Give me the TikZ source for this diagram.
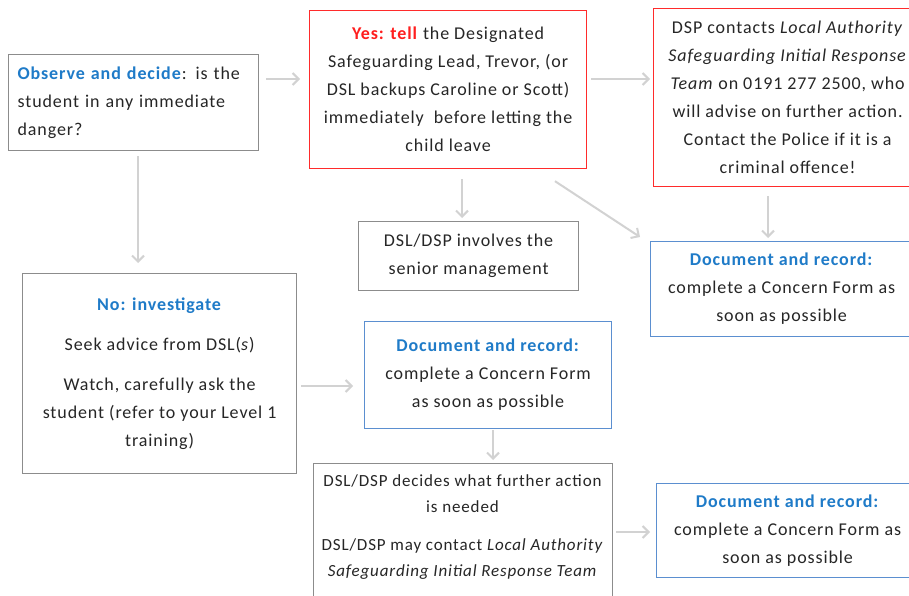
\documentclass[tikz,border=0pt]{standalone}
\usepackage{fontspec}
\setmainfont{Carlito}[LetterSpace=5]
\usetikzlibrary{arrows.meta,calc}
\definecolor{txt}{HTML}{262626}
\definecolor{gbord}{HTML}{8C8C8C}
\definecolor{rbord}{HTML}{FF2B2B}
\definecolor{bbord}{HTML}{5B8FD0}
\definecolor{btxt}{HTML}{1F7BC8}
\definecolor{rtxt}{HTML}{FF1E1E}
\definecolor{arrc}{HTML}{D2D2D2}
\newcommand{\fs}{\fontsize{18}{28}\selectfont}
\tikzset{
  base/.style={draw, line width=1.2pt, anchor=north west, inner sep=0pt, font=\fs, text=txt, align=center},
  graybox/.style={base, draw=gbord},
  redbox/.style={base, draw=rbord},
  bluebox/.style={base, draw=bbord},
  plain/.style={anchor=north, inner sep=0pt, font=\fs, text=txt, align=center},
  arr/.style={draw=arrc, line width=2pt, -{Straight Barb[length=6pt,width=12pt]}}
}
\begin{document}
\begin{tikzpicture}[x=1pt,y=-1pt]
\useasboundingbox (0,0) rectangle (909,596);
\clip (0,0) rectangle (909,596);
\fill[white] (0,0) rectangle (909,596);

\node[graybox, minimum width=250, minimum height=96, text width=232, align=left] (box1) at (8,54)
  {\textcolor{btxt}{\textbf{Observe and decide}}: is the\\student in any immediate\\danger?};

\node[redbox, minimum width=277, minimum height=158] (box2) at (309,10)
  {\textcolor{rtxt}{\textbf{Yes: tell}} the Designated\\Safeguarding Lead, Trevor, (or\\DSL backups Caroline or Scott)\\immediately\ \ before letting the\\child leave};

\node[redbox, minimum width=268, minimum height=178] (box3) at (653,8)
  {DSP contacts \textit{Local Authority}\\\textit{Safeguarding Initial Response}\\\textit{Team} on 0191 277 2500, who\\will advise on further action.\\Contact the Police if it is a\\criminal offence!};

\node[bluebox, minimum width=262, minimum height=95] (doc1) at (650,241)
  {\textcolor{btxt}{\textbf{Document and record:}}\\complete a Concern Form as\\soon as possible};

\node[graybox, minimum width=220, minimum height=69] (senior) at (358,221)
  {DSL/DSP involves the\\senior management};

\node[graybox, minimum width=274, minimum height=200] (nobox) at (22,273)
  {\textcolor{btxt}{\textbf{No: investigate}}\\[12pt]Seek advice from DSL(\textit{s})\\[12pt]Watch, carefully ask the\\student (refer to your Level 1\\training)};

\node[bluebox, minimum width=247, minimum height=107] (doc2) at (364,321)
  {\textcolor{btxt}{\textbf{Document and record:}}\\complete a Concern Form\\as soon as possible};

\node[graybox, minimum width=299, minimum height=160] (decides) at (313,463) {};
\node[plain, font=\fontsize{17}{26}\selectfont] (decidestxt) at (462.5,474)
  {DSL/DSP decides what further action\\is needed\\[12pt]DSL/DSP may contact \textit{Local Authority}\\\textit{Safeguarding Initial Response Team}};

\node[bluebox, minimum width=262, minimum height=94] (doc3) at (656,483)
  {\textcolor{btxt}{\textbf{Document and record:}}\\complete a Concern Form as\\soon as possible};

% connectors
\draw[arr, shorten <=7pt, shorten >=9pt] ([yshift=-25pt]box1.north east) -- ([yshift=-25pt]box1.north east -| box2.west);
\draw[arr, shorten <=4pt, shorten >=3pt] ([yshift=-25pt]box1.north east -| box2.east) -- ([yshift=-25pt]box1.north east -| box3.west);
\draw[arr, shorten <=9pt, shorten >=3pt] ([xshift=115pt]box3.south west) -- ([xshift=115pt]box3.south west |- doc1.north);
\draw[arr, shorten <=10pt, shorten >=3pt] ([xshift=153pt]box2.south west) -- ([xshift=153pt]box2.south west |- senior.north);
\draw[arr] ([xshift=246pt,yshift=-12pt]box2.south west) -- ([xshift=-10pt,yshift=4pt]doc1.north west);
\draw[arr, shorten <=5pt, shorten >=10pt] ([xshift=130pt]box1.south west) -- ([xshift=130pt]box1.south west |- nobox.north);
\draw[arr, shorten <=4pt, shorten >=11pt] ([yshift=-113pt]nobox.north east) -- ([yshift=-113pt]nobox.north east -| doc2.west);
\draw[arr, shorten <=1pt, shorten >=3pt] ([xshift=129pt]doc2.south west) -- ([xshift=129pt]doc2.south west |- decides.north);
\draw[arr, shorten <=3pt, shorten >=6pt] ([yshift=-69pt]decides.north east) -- ([yshift=-69pt]decides.north east -| doc3.west);
\end{tikzpicture}
\end{document}
